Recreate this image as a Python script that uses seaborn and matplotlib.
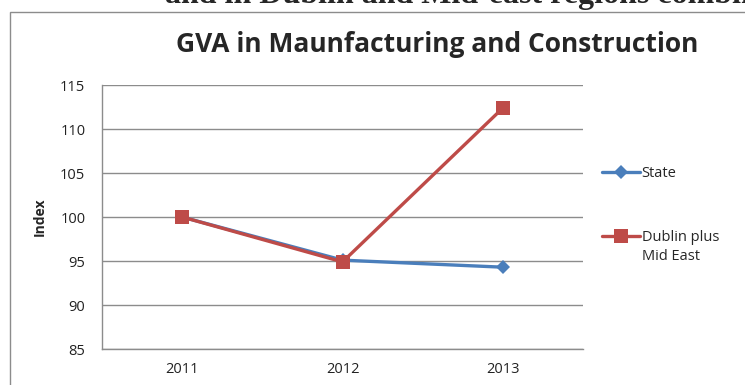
import matplotlib
matplotlib.use('Agg')
import matplotlib.pyplot as plt
import seaborn as sns
import pandas as pd
from matplotlib.patches import Rectangle

years = ['2011', '2012', '2013']
state = [100.0, 95.1, 94.3]
dublin_mid_east = [100.0, 94.9, 112.4]
series_names = ['State', 'Dublin plus\nMid East']
y_ticks = [85, 90, 95, 100, 105, 110, 115]

df = pd.concat([
    pd.DataFrame({'year': years, 'index': state, 'series': series_names[0]}),
    pd.DataFrame({'year': years, 'index': dublin_mid_east, 'series': series_names[1]}),
])

sns.set_style('white')
plt.rcParams['font.family'] = ['Open Sans', 'DejaVu Sans']

fig = plt.figure(figsize=(7.45, 3.85), dpi=100)
ax = fig.add_axes([0.137, 0.0935, 0.6456, 0.6855])

# chart frame
fig.patches.append(Rectangle((10 / 745, -0.1), 2, 1.1 - 12 / 385, transform=fig.transFigure,
                             fill=False, edgecolor='#8c8c8c', linewidth=1.0))

palette = {series_names[0]: '#4A7EBB', series_names[1]: '#BE4B48'}
sns.lineplot(data=df, x='year', y='index', hue='series', style='series',
             markers={series_names[0]: 'D', series_names[1]: 's'}, dashes=False,
             palette=palette, linewidth=2.4, markersize=8, markeredgewidth=0,
             sort=False, ax=ax)
for line in ax.lines:
    if line.get_color() == '#BE4B48':
        line.set_markersize(10)
    else:
        line.set_markersize(7)

ax.set_xlim(-0.5, 2.5)
ax.set_ylim(85, 115)
ax.set_yticks(y_ticks)
ax.yaxis.grid(True, color='#8c8c8c', linewidth=1.0)
ax.set_axisbelow(True)
for side in ['top', 'right']:
    ax.spines[side].set_visible(False)
for side in ['left', 'bottom']:
    ax.spines[side].set_color('#8c8c8c')
    ax.spines[side].set_linewidth(1.0)
ax.tick_params(axis='both', length=0, labelsize=10.5, colors='#222222')
ax.tick_params(axis='y', pad=12)
ax.tick_params(axis='x', pad=9)
ax.set_xlabel('')
ax.set_ylabel('Index', fontsize=10, fontweight='bold', labelpad=10)

# legend: handle sits beside the first line of the two-line label, as in the original
handles, labels = ax.get_legend_handles_labels()
first_lines = [lab.split('\n')[0] for lab in labels]
leg = ax.legend(handles, first_lines, loc='upper left', bbox_to_anchor=(1.028, 0.715),
                frameon=False, fontsize=10.5, handlelength=2.6, handletextpad=0.1,
                labelspacing=3.35, borderaxespad=0)
for lab in labels:
    if '\n' in lab:
        fig.text(642 / 745, 1 - 256 / 385, lab.split('\n')[1], ha='left', va='center',
                 fontsize=10.5)

fig.text(0.587, 0.885, 'GVA in Maunfacturing and Construction', ha='center', va='center',
         fontsize=19, fontweight='bold')
fig.text(0.222, 0.993, 'and in Dublin and Mid-east regions combined', ha='left', va='baseline',
         fontsize=23, fontweight='bold', family=['Liberation Serif', 'DejaVu Serif'])

fig.savefig('out.png', dpi=100)
